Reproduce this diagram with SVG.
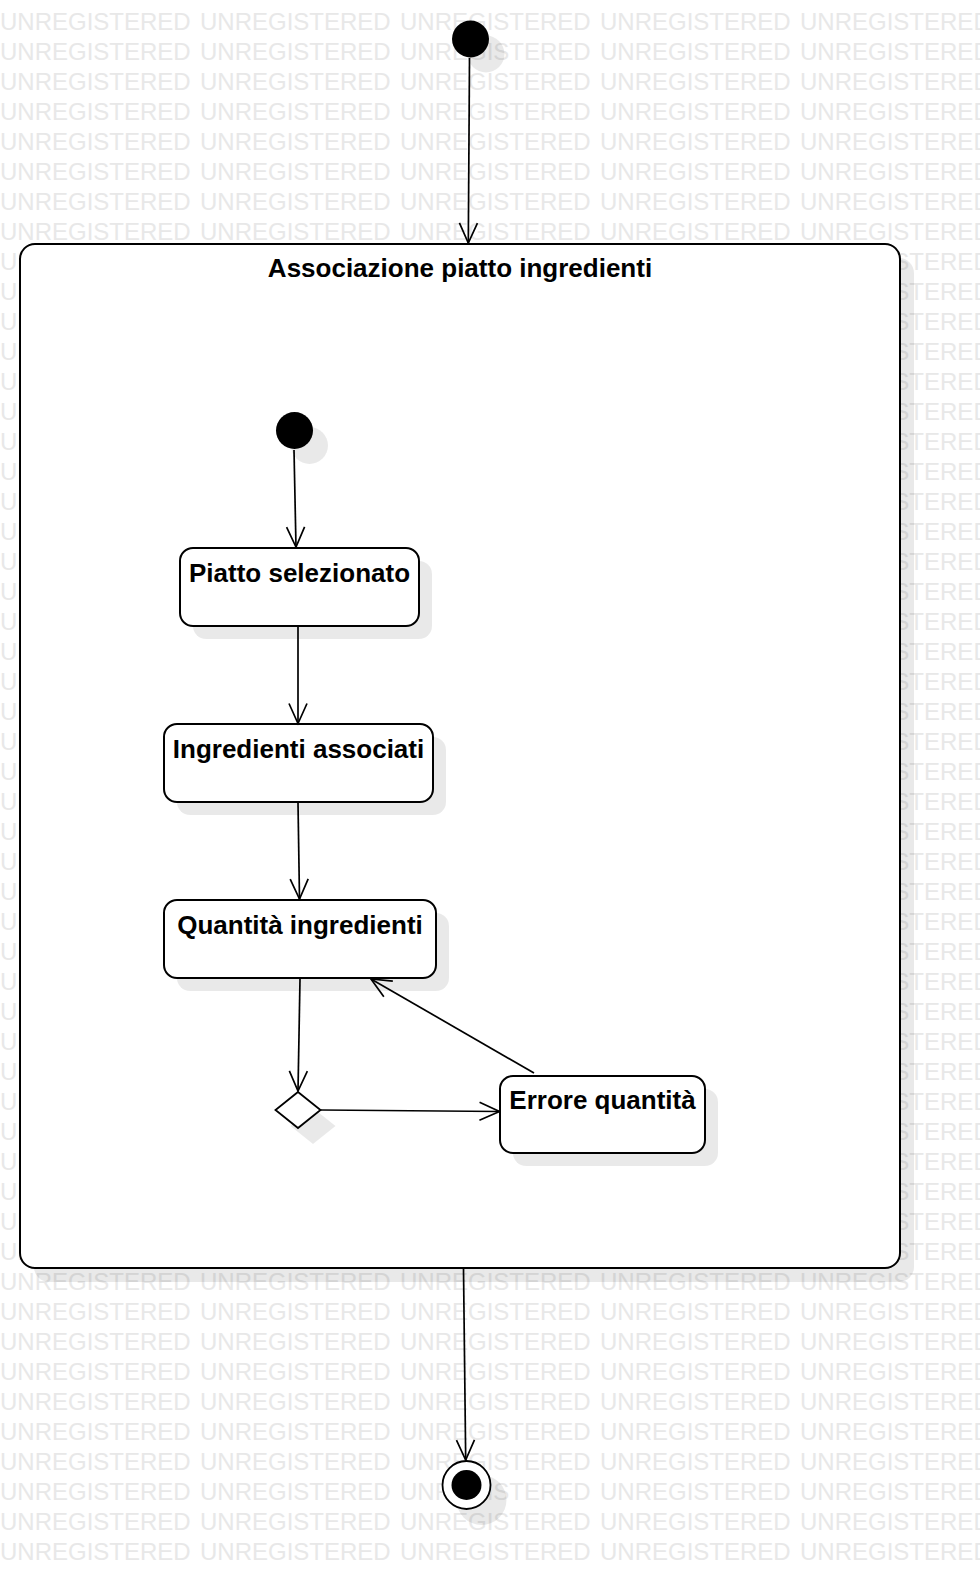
<svg xmlns="http://www.w3.org/2000/svg" width="980" height="1590" viewBox="0 0 980 1590">
<style>
.wm{font-family:"Liberation Sans",Arial,sans-serif;font-size:24px;fill:#e8e8e8;word-spacing:2.65px}
.sh{fill:#000;fill-opacity:0.085;stroke:none}
.box{fill:#fff;stroke:#000;stroke-width:2}
.lbl{font-family:"Liberation Sans",Arial,sans-serif;font-size:26px;font-weight:bold;fill:#000;text-anchor:middle}
.ln{fill:none;stroke:#000;stroke-width:1.7}
</style>
<defs>
<marker id="arr" viewBox="-22 -11 24 22" refX="0" refY="0" markerWidth="24" markerHeight="22" markerUnits="userSpaceOnUse" orient="auto">
<path d="M-20,-9 L0,0 L-20,9" fill="none" stroke="#000" stroke-width="1.7"/>
</marker>
</defs>
<rect width="980" height="1590" fill="#fff"/>
<g id="watermark">
<text class="wm" x="0" y="30">UNREGISTERED UNREGISTERED UNREGISTERED UNREGISTERED UNREGISTERED</text>
<text class="wm" x="0" y="60">UNREGISTERED UNREGISTERED UNREGISTERED UNREGISTERED UNREGISTERED</text>
<text class="wm" x="0" y="90">UNREGISTERED UNREGISTERED UNREGISTERED UNREGISTERED UNREGISTERED</text>
<text class="wm" x="0" y="120">UNREGISTERED UNREGISTERED UNREGISTERED UNREGISTERED UNREGISTERED</text>
<text class="wm" x="0" y="150">UNREGISTERED UNREGISTERED UNREGISTERED UNREGISTERED UNREGISTERED</text>
<text class="wm" x="0" y="180">UNREGISTERED UNREGISTERED UNREGISTERED UNREGISTERED UNREGISTERED</text>
<text class="wm" x="0" y="210">UNREGISTERED UNREGISTERED UNREGISTERED UNREGISTERED UNREGISTERED</text>
<text class="wm" x="0" y="240">UNREGISTERED UNREGISTERED UNREGISTERED UNREGISTERED UNREGISTERED</text>
<text class="wm" x="0" y="270">UNREGISTERED UNREGISTERED UNREGISTERED UNREGISTERED UNREGISTERED</text>
<text class="wm" x="0" y="300">UNREGISTERED UNREGISTERED UNREGISTERED UNREGISTERED UNREGISTERED</text>
<text class="wm" x="0" y="330">UNREGISTERED UNREGISTERED UNREGISTERED UNREGISTERED UNREGISTERED</text>
<text class="wm" x="0" y="360">UNREGISTERED UNREGISTERED UNREGISTERED UNREGISTERED UNREGISTERED</text>
<text class="wm" x="0" y="390">UNREGISTERED UNREGISTERED UNREGISTERED UNREGISTERED UNREGISTERED</text>
<text class="wm" x="0" y="420">UNREGISTERED UNREGISTERED UNREGISTERED UNREGISTERED UNREGISTERED</text>
<text class="wm" x="0" y="450">UNREGISTERED UNREGISTERED UNREGISTERED UNREGISTERED UNREGISTERED</text>
<text class="wm" x="0" y="480">UNREGISTERED UNREGISTERED UNREGISTERED UNREGISTERED UNREGISTERED</text>
<text class="wm" x="0" y="510">UNREGISTERED UNREGISTERED UNREGISTERED UNREGISTERED UNREGISTERED</text>
<text class="wm" x="0" y="540">UNREGISTERED UNREGISTERED UNREGISTERED UNREGISTERED UNREGISTERED</text>
<text class="wm" x="0" y="570">UNREGISTERED UNREGISTERED UNREGISTERED UNREGISTERED UNREGISTERED</text>
<text class="wm" x="0" y="600">UNREGISTERED UNREGISTERED UNREGISTERED UNREGISTERED UNREGISTERED</text>
<text class="wm" x="0" y="630">UNREGISTERED UNREGISTERED UNREGISTERED UNREGISTERED UNREGISTERED</text>
<text class="wm" x="0" y="660">UNREGISTERED UNREGISTERED UNREGISTERED UNREGISTERED UNREGISTERED</text>
<text class="wm" x="0" y="690">UNREGISTERED UNREGISTERED UNREGISTERED UNREGISTERED UNREGISTERED</text>
<text class="wm" x="0" y="720">UNREGISTERED UNREGISTERED UNREGISTERED UNREGISTERED UNREGISTERED</text>
<text class="wm" x="0" y="750">UNREGISTERED UNREGISTERED UNREGISTERED UNREGISTERED UNREGISTERED</text>
<text class="wm" x="0" y="780">UNREGISTERED UNREGISTERED UNREGISTERED UNREGISTERED UNREGISTERED</text>
<text class="wm" x="0" y="810">UNREGISTERED UNREGISTERED UNREGISTERED UNREGISTERED UNREGISTERED</text>
<text class="wm" x="0" y="840">UNREGISTERED UNREGISTERED UNREGISTERED UNREGISTERED UNREGISTERED</text>
<text class="wm" x="0" y="870">UNREGISTERED UNREGISTERED UNREGISTERED UNREGISTERED UNREGISTERED</text>
<text class="wm" x="0" y="900">UNREGISTERED UNREGISTERED UNREGISTERED UNREGISTERED UNREGISTERED</text>
<text class="wm" x="0" y="930">UNREGISTERED UNREGISTERED UNREGISTERED UNREGISTERED UNREGISTERED</text>
<text class="wm" x="0" y="960">UNREGISTERED UNREGISTERED UNREGISTERED UNREGISTERED UNREGISTERED</text>
<text class="wm" x="0" y="990">UNREGISTERED UNREGISTERED UNREGISTERED UNREGISTERED UNREGISTERED</text>
<text class="wm" x="0" y="1020">UNREGISTERED UNREGISTERED UNREGISTERED UNREGISTERED UNREGISTERED</text>
<text class="wm" x="0" y="1050">UNREGISTERED UNREGISTERED UNREGISTERED UNREGISTERED UNREGISTERED</text>
<text class="wm" x="0" y="1080">UNREGISTERED UNREGISTERED UNREGISTERED UNREGISTERED UNREGISTERED</text>
<text class="wm" x="0" y="1110">UNREGISTERED UNREGISTERED UNREGISTERED UNREGISTERED UNREGISTERED</text>
<text class="wm" x="0" y="1140">UNREGISTERED UNREGISTERED UNREGISTERED UNREGISTERED UNREGISTERED</text>
<text class="wm" x="0" y="1170">UNREGISTERED UNREGISTERED UNREGISTERED UNREGISTERED UNREGISTERED</text>
<text class="wm" x="0" y="1200">UNREGISTERED UNREGISTERED UNREGISTERED UNREGISTERED UNREGISTERED</text>
<text class="wm" x="0" y="1230">UNREGISTERED UNREGISTERED UNREGISTERED UNREGISTERED UNREGISTERED</text>
<text class="wm" x="0" y="1260">UNREGISTERED UNREGISTERED UNREGISTERED UNREGISTERED UNREGISTERED</text>
<text class="wm" x="0" y="1290">UNREGISTERED UNREGISTERED UNREGISTERED UNREGISTERED UNREGISTERED</text>
<text class="wm" x="0" y="1320">UNREGISTERED UNREGISTERED UNREGISTERED UNREGISTERED UNREGISTERED</text>
<text class="wm" x="0" y="1350">UNREGISTERED UNREGISTERED UNREGISTERED UNREGISTERED UNREGISTERED</text>
<text class="wm" x="0" y="1380">UNREGISTERED UNREGISTERED UNREGISTERED UNREGISTERED UNREGISTERED</text>
<text class="wm" x="0" y="1410">UNREGISTERED UNREGISTERED UNREGISTERED UNREGISTERED UNREGISTERED</text>
<text class="wm" x="0" y="1440">UNREGISTERED UNREGISTERED UNREGISTERED UNREGISTERED UNREGISTERED</text>
<text class="wm" x="0" y="1470">UNREGISTERED UNREGISTERED UNREGISTERED UNREGISTERED UNREGISTERED</text>
<text class="wm" x="0" y="1500">UNREGISTERED UNREGISTERED UNREGISTERED UNREGISTERED UNREGISTERED</text>
<text class="wm" x="0" y="1530">UNREGISTERED UNREGISTERED UNREGISTERED UNREGISTERED UNREGISTERED</text>
<text class="wm" x="0" y="1560">UNREGISTERED UNREGISTERED UNREGISTERED UNREGISTERED UNREGISTERED</text>
</g>
<g id="composite">
<rect class="sh" x="34" y="258" width="880" height="1024" rx="15"/>
<rect class="box" x="20" y="244" width="880" height="1024" rx="15"/>
<text class="lbl" x="460" y="277">Associazione piatto ingredienti</text>
</g>
<g id="initial-top">
<circle class="sh" cx="486" cy="54" r="18.5"/>
<circle cx="470.5" cy="39" r="18.5" fill="#000"/>
</g>
<g id="initial-inner">
<circle class="sh" cx="309.5" cy="445.5" r="18.5"/>
<circle cx="294.5" cy="430.5" r="18.5" fill="#000"/>
</g>
<g id="piatto-selezionato">
<rect class="sh" x="193" y="561" width="239" height="78" rx="13"/>
<rect class="box" x="180" y="548" width="239" height="78" rx="13"/>
<text class="lbl" x="299.5" y="582">Piatto selezionato</text>
</g>
<g id="ingredienti-associati">
<rect class="sh" x="177" y="737" width="269" height="78" rx="13"/>
<rect class="box" x="164" y="724" width="269" height="78" rx="13"/>
<text class="lbl" x="298.5" y="758">Ingredienti associati</text>
</g>
<g id="quantita-ingredienti">
<rect class="sh" x="177" y="913" width="272" height="78" rx="13"/>
<rect class="box" x="164" y="900" width="272" height="78" rx="13"/>
<text class="lbl" x="300" y="933.5">Quantità ingredienti</text>
</g>
<g id="decision">
<path class="sh" d="M313,1108 L335.5,1126 L313,1144 L290.5,1126 Z"/>
<path d="M298,1092 L320.5,1110 L298,1128 L275.5,1110 Z" fill="#fff" stroke="#000" stroke-width="1.8"/>
</g>
<g id="errore-quantita">
<rect class="sh" x="513" y="1089" width="205" height="77" rx="13"/>
<rect class="box" x="500" y="1076" width="205" height="77" rx="13"/>
<text class="lbl" x="602.5" y="1109">Errore quantità</text>
</g>
<g id="final">
<circle class="sh" cx="481.5" cy="1500" r="25"/>
<circle cx="466.5" cy="1485" r="24" fill="#fff" stroke="#000" stroke-width="1.8"/>
<circle cx="466.5" cy="1485" r="15" fill="#000"/>
</g>
<g id="connectors">
<line class="ln" x1="469.5" y1="58" x2="468.3" y2="243" marker-end="url(#arr)"/>
<line class="ln" x1="294" y1="450" x2="296" y2="547" marker-end="url(#arr)"/>
<line class="ln" x1="298" y1="627" x2="298" y2="723.5" marker-end="url(#arr)"/>
<line class="ln" x1="298" y1="803" x2="299.5" y2="899" marker-end="url(#arr)"/>
<line class="ln" x1="300" y1="979" x2="298" y2="1091" marker-end="url(#arr)"/>
<line class="ln" x1="321" y1="1110" x2="499.5" y2="1111.5" marker-end="url(#arr)"/>
<line class="ln" x1="534" y1="1073" x2="371" y2="979" marker-end="url(#arr)"/>
<line class="ln" x1="463.5" y1="1269" x2="465.7" y2="1460" marker-end="url(#arr)"/>
</g>
</svg>
